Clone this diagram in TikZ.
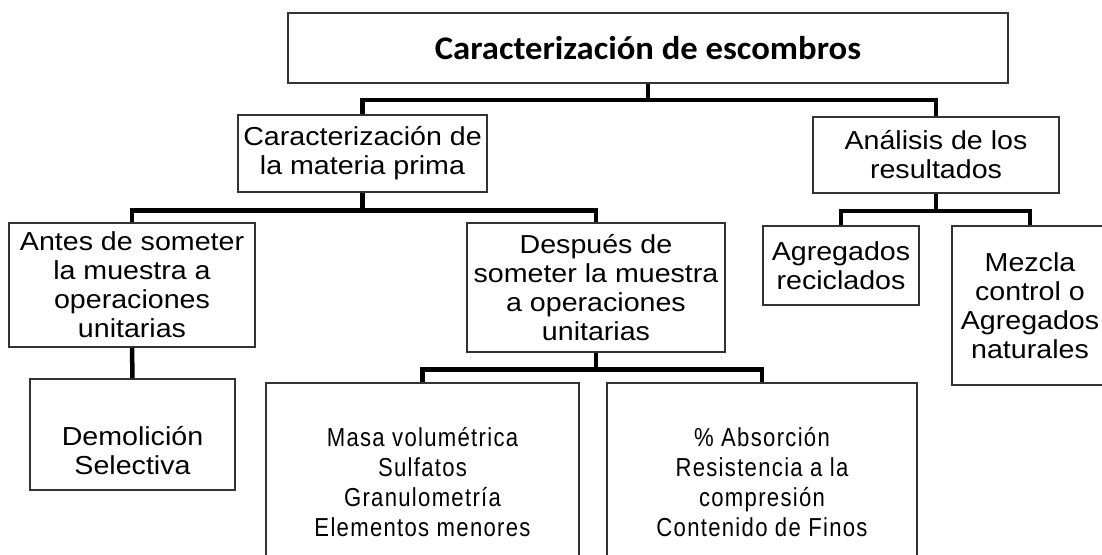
\documentclass[tikz,border=0pt]{standalone}
\usepackage{fontspec}
\setmainfont{Liberation Sans}
\newfontfamily\boxfont[FakeStretch=1.1]{Liberation Sans}
\newfontfamily\titlefont[FakeStretch=1.05]{Carlito}
\newfontfamily\narrowfont[FakeStretch=0.85,LetterSpace=5]{Liberation Sans}

\begin{document}
\begin{tikzpicture}[x=1pt, y=-1pt,
      box/.style={rectangle, draw=black!80, line width=1.5pt, inner sep=0pt, align=center, font=\boxfont\fontsize{26}{29}\selectfont},
      txt/.style={inner sep=0pt, align=center, font=\narrowfont\fontsize{26}{30.3}\selectfont},
      link/.style={line width=4.5pt, line join=miter}]

\useasboundingbox (0,0) rectangle (1102,554);

\node[box, minimum width=720pt, minimum height=70pt, font=\titlefont\bfseries\fontsize{33}{36}\selectfont] (top) at (648,48) {Caracterización de escombros};
\node[box, minimum width=249pt, minimum height=77pt] (mat) at (362.5,153.5) {Caracterización de\\la materia prima};
\node[box, minimum width=246pt, minimum height=76pt] (res) at (936,155) {Análisis de los\\resultados};
\node[box, minimum width=246pt, minimum height=124pt] (antes) at (132,285) {Antes de someter\\la muestra a\\operaciones\\unitarias};
\node[box, minimum width=258pt, minimum height=129pt] (desp) at (596,287.5) {Después de\\someter la muestra\\a operaciones\\unitarias};
\node[box, minimum width=156pt, minimum height=79pt] (recic) at (841,265.5) {Agregados\\reciclados};
\node[box, minimum width=156pt, minimum height=159pt] (mezcla) at (1030,305.5) {Mezcla\\control o\\Agregados\\naturales};
\node[box, minimum width=205pt, minimum height=111pt] (demol) at (132.5,434.5) {};
\node[box, minimum width=313pt, minimum height=187pt] (prop1) at (422.5,476.5) {};
\node[box, minimum width=310pt, minimum height=187pt] (prop2) at (762,476.5) {};

\node[inner sep=0pt, align=center, font=\boxfont\fontsize{26}{29}\selectfont] (demoltxt) at (132.5,451) {Demolición\\Selectiva};
\node[txt] (prop1txt) at (422.5,482) {Masa volumétrica\\Sulfatos\\Granulometría\\Elementos menores};
\node[txt] (prop2txt) at (762,482) {\% Absorción\\Resistencia a la\\compresión\\Contenido de Finos};

\coordinate (j1) at (648,100);
\coordinate (j2) at (362.5,210.5);
\coordinate (j3) at (936,211);
\coordinate (j4) at (596,369.5);

\draw[link] (top.south) -- (j1);
\draw[link] (mat.north) |- (j1) -| (res.north);
\draw[link] (mat.south) -- (j2);
\draw[link] (antes.north) |- (j2) -| (desp.north);
\draw[link] (res.south) -- (j3);
\draw[link] (recic.north) |- (j3) -| (mezcla.north);
\draw[link] (antes.south) -- (demol.north);
\draw[link] (desp.south) -- (j4);
\draw[link] (prop1.north) |- (j4) -| (prop2.north);

\end{tikzpicture}
\end{document}
